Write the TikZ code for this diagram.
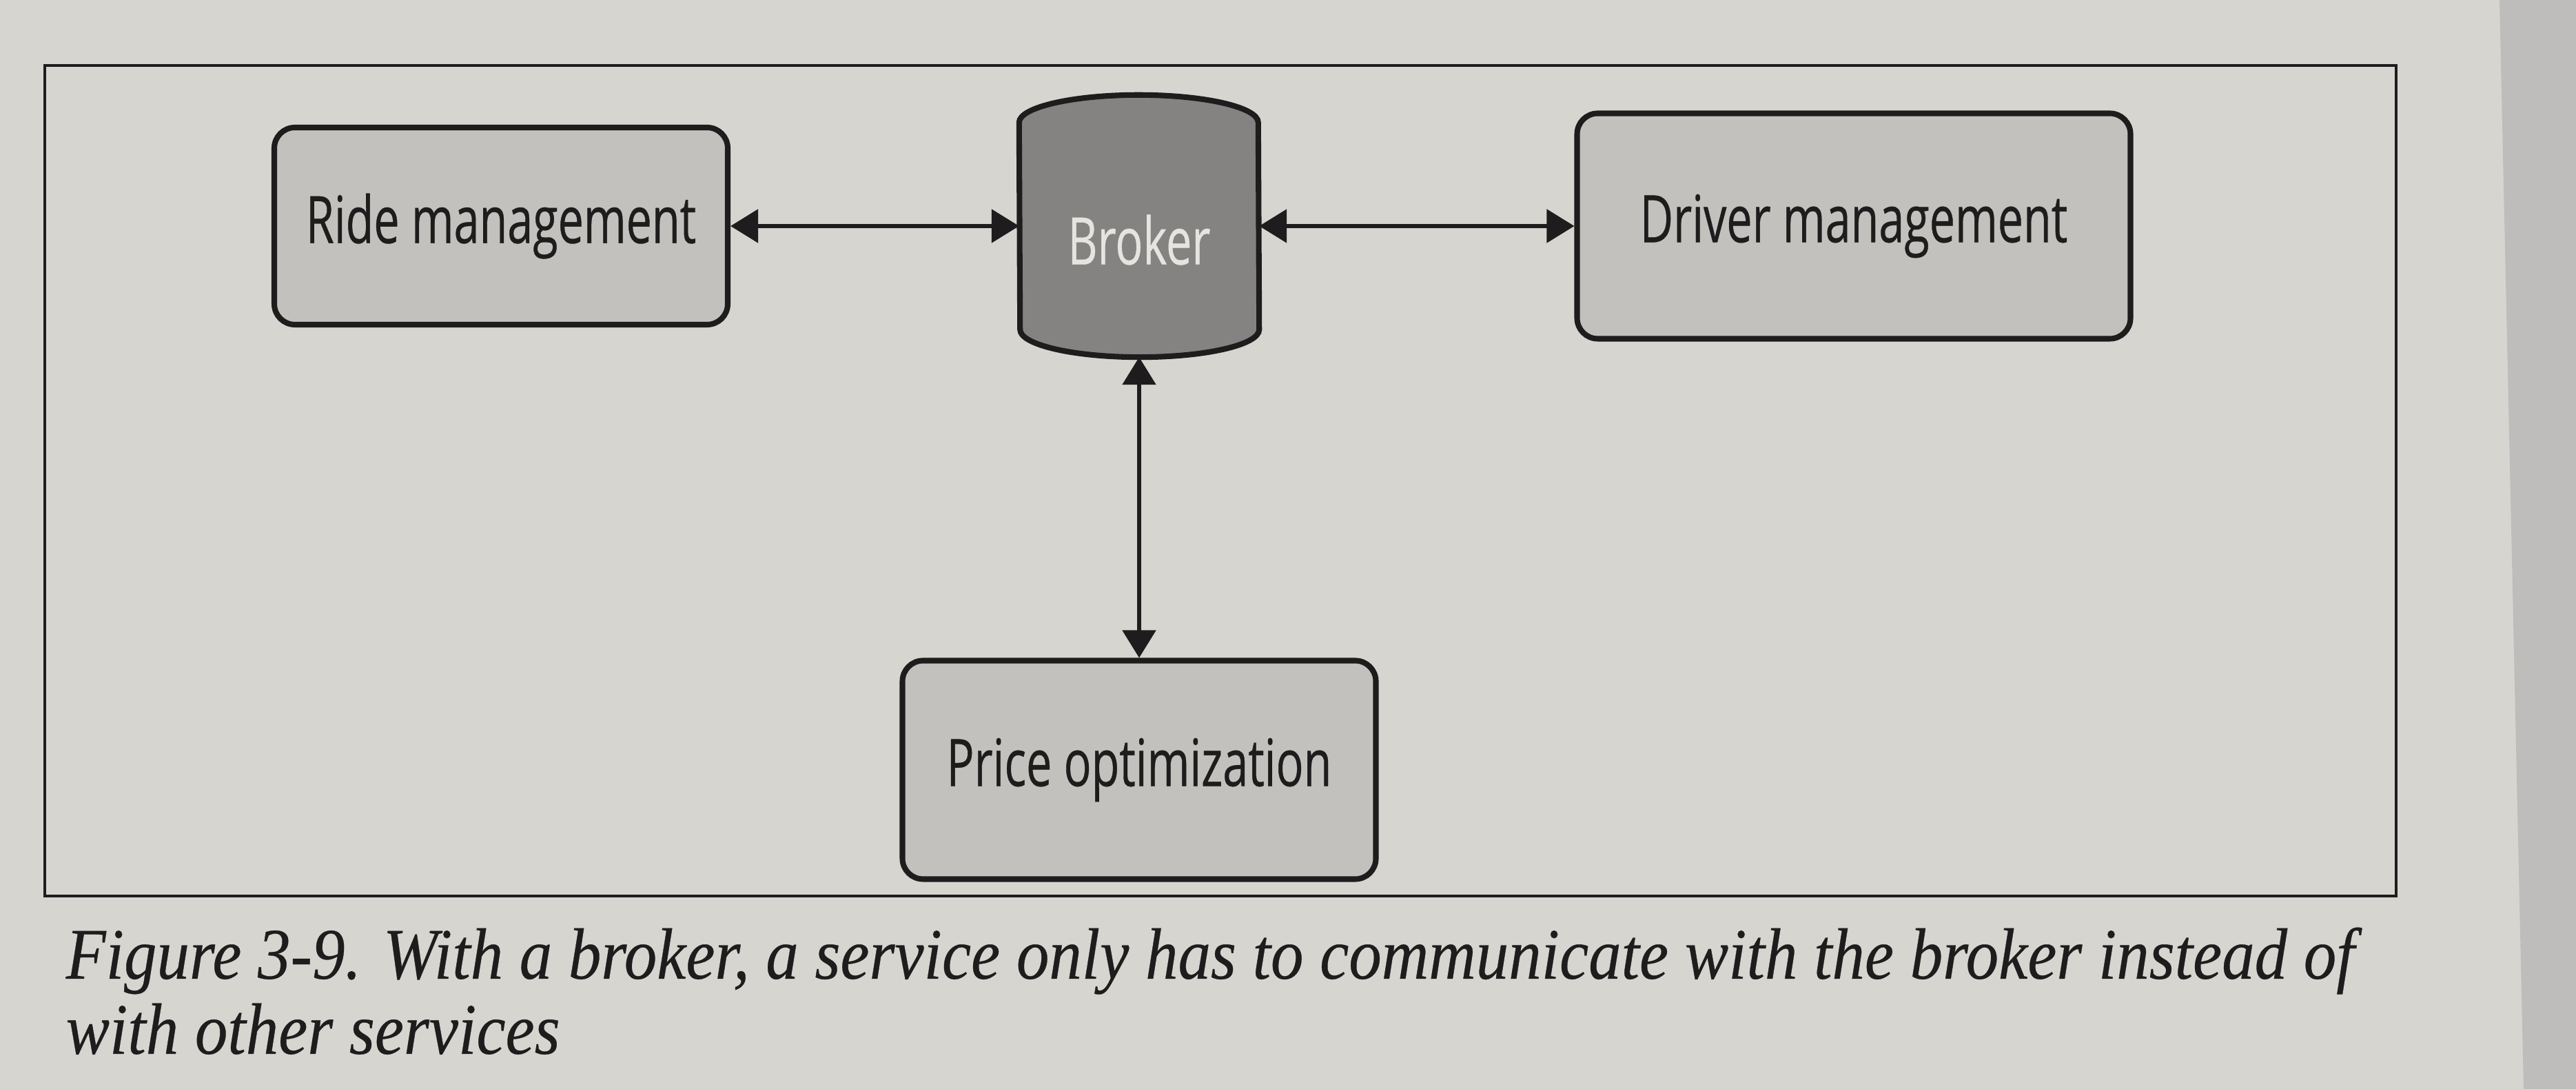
\documentclass[tikz,border=0pt]{standalone}
\usepackage{fontspec}
\usepackage{tikz}
\usetikzlibrary{arrows.meta, positioning, calc}
\newfontfamily\labelfont[FakeStretch=0.7, FakeBold=0.4]{Open Sans}
\newfontfamily\captionfont[FakeStretch=0.9, FakeBold=0.3]{Liberation Serif}
\definecolor{pagegray}{HTML}{D6D5D0}
\definecolor{pageshadow}{HTML}{BEBDBC}
\definecolor{boxgray}{HTML}{C2C1BD}
\definecolor{brokergray}{HTML}{858381}
\definecolor{brokertext}{HTML}{E4E4E0}
\definecolor{inkdark}{HTML}{1E1C1C}

\tikzset{
  svcbox/.style={draw=inkdark, line width=2.3pt, fill=boxgray, rounded corners=3mm,
    font=\fontsize{27}{27}\selectfont\labelfont, text=inkdark, inner sep=0pt},
  brokerbody/.style={draw=inkdark, line width=2.3pt, fill=brokergray},
  link/.style={draw=inkdark, line width=1.5pt,
    {Triangle[length=4mm,width=4.8mm]}-{Triangle[length=4mm,width=4.8mm]}},
}

\begin{document}
\begin{tikzpicture}
  % Page background
  \fill[pagegray] (0,0) rectangle (37.38,15.8);
  % Page edge
  \fill[pageshadow] (36.27,15.8) -- (36.62,0) -- (37.38,0) -- (37.38,15.8) -- cycle;

  % Figure frame
  \draw[inkdark, line width=0.9pt] (0.65,2.8) rectangle (34.77,14.85);

  % Services
  \node[svcbox, minimum width=6.58cm, minimum height=2.86cm] (ride) at (7.27,12.52) {Ride management};
  \node[svcbox, minimum width=8.03cm, minimum height=3.27cm] (driver) at (26.9,12.52) {Driver management};
  \node[svcbox, minimum width=6.87cm, minimum height=3.17cm] (price) at (16.53,4.63) {Price optimization};

  % Broker cylinder
  \node[minimum width=3.47cm, minimum height=3.79cm, inner sep=0pt] (broker) at (16.53,12.52) {};
  \filldraw[brokerbody] ([yshift=-4mm]broker.north west)
    arc[start angle=180, end angle=0, x radius=1.735cm, y radius=4mm]
    -- ([yshift=4mm]broker.south east)
    arc[start angle=0, end angle=-180, x radius=1.735cm, y radius=4mm] -- cycle;
  \node[text=brokertext, font=\fontsize{27}{27}\selectfont\labelfont] (brokerlabel) at ([yshift=-2mm]broker.center) {Broker};

  % Links
  \draw[link] (ride.east) -- (broker.west);
  \draw[link] (broker.east) -- (driver.west);
  \draw[link] (broker.south) -- (price.north);

  % Caption
  \node[anchor=north west, align=left, inner sep=0pt, text=inkdark,
    font=\fontsize{30}{31}\selectfont\captionfont\itshape] (caption) at (0.95,2.35)
    {Figure 3-9. With a broker, a service only has to communicate with the broker instead of\\with other services};
\end{tikzpicture}
\end{document}
